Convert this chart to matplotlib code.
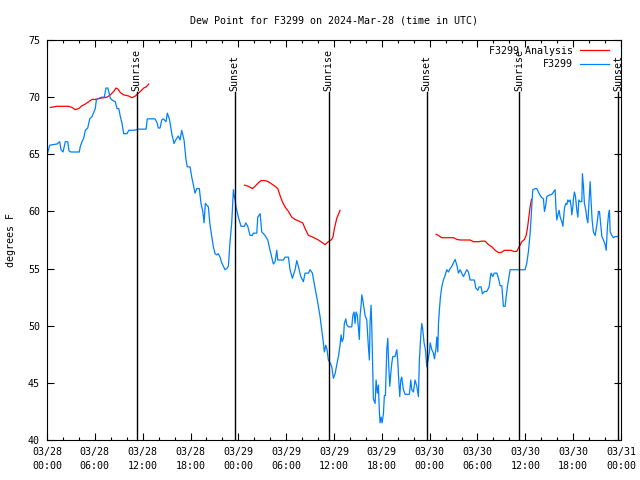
import numpy as np
import matplotlib
matplotlib.use("Agg")
from matplotlib import pyplot as plt
from matplotlib.ticker import MultipleLocator

# hours since 2024-03-28 00:00 UTC, dew point in F
obs_hours = [0.0, 0.34, 1.25, 1.59, 1.76, 2.01, 2.30, 2.60, 2.76, 3.01, 4.05, 4.18, 4.39, 4.60, 4.81, 5.11,
             5.36, 5.65, 6.06, 6.19, 6.49, 6.90, 7.19, 7.40, 7.62, 7.74, 7.94, 8.16, 8.57, 8.78, 9.0, 9.20,
             9.41, 9.62, 10.04, 10.25, 10.88, 11.51, 12.43, 12.58, 13.55, 13.84, 13.96, 14.18, 14.39, 14.59,
             14.93, 15.09, 15.35, 15.52, 15.65, 15.93, 16.19, 16.47, 16.69, 16.90, 17.19, 17.31, 17.44, 17.60,
             17.94, 18.16, 18.36, 18.57, 18.78, 19.11, 19.20, 19.32, 19.54, 19.70, 19.86, 20.24, 20.45, 20.67,
             20.87, 21.08, 21.29, 21.49, 21.71, 21.92, 22.33, 22.55, 22.75, 22.96, 23.17, 23.38, 23.50, 23.59,
             23.71, 24.0, 24.34, 24.76, 24.93, 25.18, 25.47, 25.76, 25.88, 26.31, 26.44, 26.73, 26.94, 27.35,
             27.69, 27.98, 28.19, 28.39, 28.61, 28.82, 28.94, 29.65, 29.86, 30.28, 30.49, 30.78, 31.12, 31.33,
             31.53, 31.83, 32.16, 32.37, 32.79, 33.00, 33.29, 33.54, 33.84, 34.04, 34.25, 34.47, 34.67, 34.79,
             34.97, 35.13, 35.29, 35.55, 35.72, 35.92, 36.14, 36.35, 36.55, 36.76, 36.89, 37.01, 37.18, 37.30,
             37.48, 37.60, 37.80, 38.23, 38.36, 38.52, 38.64, 38.77, 38.93, 39.06, 39.18, 39.27, 39.40, 39.49,
             39.61, 39.77, 39.90, 40.11, 40.31, 40.44, 40.53, 40.65, 40.74, 40.87, 40.94, 41.16, 41.28, 41.44,
             41.57, 41.69, 41.78, 41.91, 42.03, 42.20, 42.32, 42.45, 42.62, 42.75, 42.87, 43.00, 43.12, 43.25,
             43.37, 43.66, 43.88, 44.00, 44.13, 44.25, 44.38, 44.50, 44.71, 44.92, 45.46, 45.63, 45.76, 45.96,
             46.17, 46.39, 46.59, 46.71, 46.89, 47.01, 47.14, 47.30, 47.47, 47.64, 47.80, 47.97, 48.06, 48.27,
             48.47, 48.60, 48.77, 48.90, 49.02, 49.10, 49.22, 49.35, 49.52, 49.72, 49.94, 50.15, 50.35, 50.56,
             50.78, 50.98, 51.19, 51.41, 51.61, 51.82, 52.03, 52.23, 52.45, 52.66, 52.86, 53.07, 53.61, 53.79,
             54.04, 54.20, 54.45, 54.62, 54.87, 55.17, 55.46, 55.62, 55.71, 55.92, 56.09, 56.43, 56.63, 56.84,
             57.05, 57.13, 57.25, 57.47, 57.59, 57.75, 57.97, 58.09, 59.97, 60.19, 60.39, 60.60, 60.73, 60.85,
             60.94, 61.23, 61.44, 61.64, 61.86, 62.07, 62.27, 62.40, 62.53, 62.70, 62.90, 63.33, 63.53, 63.74,
             63.83, 63.95, 64.08, 64.24, 64.37, 64.58, 64.71, 64.78, 64.91, 65.08, 65.21, 65.33, 65.46, 65.62,
             65.75, 65.83, 65.96, 66.03, 66.16, 66.29, 66.46, 66.59, 66.71, 66.88, 67.09, 67.16, 67.29, 67.41,
             67.59, 67.71, 67.84, 68.00, 68.13, 68.26, 68.38, 68.54, 68.76, 68.97, 69.17, 69.30, 69.47, 69.60,
             69.80, 70.01, 70.14, 70.30, 70.43, 70.55, 70.64, 70.85, 71.05, 71.27, 71.68]
obs_dewpt = [64.9, 65.8, 65.9, 66.1, 65.4, 65.2, 66.1, 66.1, 65.3, 65.2, 65.2, 65.7, 66.1, 66.4, 67.1, 67.3,
             68.1, 68.3, 69.0, 69.75, 69.9, 70.0, 70.0, 70.8, 70.8, 70.5, 69.9, 69.75, 69.6, 69.0, 69.0, 68.3,
             67.7, 66.8, 66.8, 67.1, 67.1, 67.2, 67.2, 68.1, 68.1, 67.7, 67.3, 67.3, 68.0, 68.1,
             67.85, 68.6, 68.1, 67.4, 66.8, 65.95, 66.3, 66.6, 66.25, 67.1, 66.25, 65.4, 64.5, 63.9,
             63.9, 63.0, 62.3, 61.6, 62.0, 62.0, 61.4, 60.7, 60.0, 59.0, 60.7, 60.4, 58.8, 57.8,
             56.9, 56.3, 56.2, 56.3, 56.0, 55.5, 54.9, 55.0, 55.2, 57.35, 59.0, 61.9, 61.3, 61.0,
             60.4, 59.5, 58.7, 58.7, 59.0, 58.7, 57.9, 57.9, 58.1, 58.1, 59.5, 59.8, 58.2, 57.9,
             57.5, 56.6, 56.0, 55.4, 55.6, 56.6, 55.75, 55.75, 56.0, 56.0, 54.9, 54.15, 54.9, 55.7,
             55.2, 54.3, 53.85, 54.6, 54.6, 54.9, 54.6, 53.6, 52.5, 51.7, 50.8, 49.6, 48.5, 47.7,
             48.3, 47.9, 47.0, 46.7, 46.4, 45.4, 45.8, 46.6, 47.3, 48.3, 49.2, 48.6, 48.9, 50.2,
             50.6, 50.1, 49.9, 49.9, 50.9, 51.2, 50.2, 51.2, 50.9, 49.8, 48.8, 50.9, 51.8, 52.7,
             52.25, 51.5, 50.9, 50.5, 48.2, 47.0, 50.35, 51.8, 49.9, 45.8, 43.6, 43.2, 45.25, 44.1,
             44.8, 42.5, 41.5, 42.0, 41.5, 42.3, 43.9, 43.9, 47.9, 48.9, 46.4, 44.7, 45.8, 46.7,
             47.3, 47.3, 47.9, 46.9, 45.1, 43.8, 45.25, 45.5, 44.4, 44.0, 44.0, 45.25, 44.4, 44.2,
             45.25, 44.7, 43.8, 47.0, 49.2, 50.2, 49.6, 48.5, 47.9, 46.4, 47.0, 47.7, 48.5, 47.9,
             47.6, 47.1, 47.9, 49.0, 47.7, 50.1, 51.4, 52.5, 53.4, 54.0, 54.4, 54.9, 54.7, 55.0,
             55.2, 55.5, 55.8, 55.3, 54.6, 54.9, 54.6, 54.3, 54.6, 54.9, 54.7, 54.0, 54.0, 53.3,
             53.1, 53.4, 53.4, 52.8, 53.0, 53.0, 53.4, 54.3, 54.6, 54.3, 54.6, 54.6, 54.15, 53.5,
             53.5, 52.8, 51.7, 51.7, 52.5, 53.4, 54.4, 54.9, 54.9, 55.5, 56.5, 58.1, 59.5, 61.0,
             61.9, 62.0, 62.0, 61.7, 61.4, 61.2, 61.1, 60.0, 60.4, 61.3, 61.4, 61.5, 61.7, 61.9,
             60.4, 59.25, 59.7, 60.1, 59.5, 59.1, 58.7, 59.25, 60.3, 60.7, 60.6, 61.0, 60.85, 61.0,
             60.4, 59.7, 60.4, 61.1, 61.7, 61.3, 60.1, 59.5, 61.0, 60.85, 60.85, 63.3, 62.2, 60.7,
             60.1, 59.4, 59.0, 61.0, 62.6, 60.7, 59.25, 58.2, 57.9, 58.8, 60.0, 60.0, 58.7, 57.8,
             57.5, 57.1, 56.6, 58.7, 59.7, 60.1, 58.2, 57.9, 57.7, 57.8, 57.8]

# analysis runs (three separate pieces)
ana_hours_1 = [0.41, 1.25, 2.72, 3.14, 3.55, 3.98, 4.39, 4.81, 5.23, 5.65, 6.06, 6.69, 7.11, 7.53, 7.94,
               8.37, 8.66, 8.91, 9.20, 9.62, 10.25, 10.67, 11.08, 11.38, 11.71, 12.13, 12.46, 12.76]
ana_dewpt_1 = [69.1, 69.2, 69.2, 69.1, 68.9, 69.0, 69.25, 69.4, 69.6, 69.8, 69.8, 69.9, 69.95, 70.0, 70.2,
               70.5, 70.8, 70.7, 70.4, 70.2, 70.1, 69.95, 70.1, 70.3, 70.5, 70.8, 70.9, 71.15]
ana_hours_2 = [24.76, 25.26, 25.76, 26.10, 26.51, 26.85, 27.35, 27.77, 28.19, 28.61, 28.95, 29.23, 29.52,
               29.86, 30.28, 30.70, 31.12, 31.74, 32.08, 32.37, 32.79, 33.21, 33.63, 34.04, 34.47, 34.88,
               35.29, 35.72, 35.88, 36.05, 36.35, 36.76]
ana_dewpt_2 = [62.3, 62.2, 62.0, 62.2, 62.5, 62.7, 62.7, 62.6, 62.4, 62.2, 62.0, 61.4, 60.85,
               60.4, 60.0, 59.5, 59.3, 59.1, 59.0, 58.5, 57.9, 57.8, 57.65, 57.5, 57.3, 57.1,
               57.35, 57.55, 57.8, 58.5, 59.4, 60.1]
ana_hours_3 = [48.81, 49.10, 49.52, 50.98, 51.41, 51.82, 53.07, 53.49, 54.12, 54.54, 54.96, 55.37, 55.80,
               56.21, 56.63, 56.96, 57.38, 58.22, 58.51, 58.93, 59.22, 59.56, 59.89, 60.10, 60.26, 60.44,
               60.60, 60.77]
ana_dewpt_3 = [58.0, 57.9, 57.7, 57.7, 57.55, 57.5, 57.5, 57.35, 57.35, 57.4, 57.4, 57.1, 56.9,
               56.6, 56.4, 56.4, 56.6, 56.6, 56.5, 56.5, 56.9, 57.35, 57.55, 57.9, 58.5, 59.5,
               60.4, 61.05]

sun_hours = [11.27, 23.54, 35.35, 47.62, 59.23, 71.63]
sun_labels = ["Sunrise", "Sunset", "Sunrise", "Sunset", "Sunrise", "Sunset"]

tick_hours = list(range(0, 73, 6))
tick_labels = ["03/28\n00:00", "03/28\n06:00", "03/28\n12:00", "03/28\n18:00",
               "03/29\n00:00", "03/29\n06:00", "03/29\n12:00", "03/29\n18:00",
               "03/30\n00:00", "03/30\n06:00", "03/30\n12:00", "03/30\n18:00", "03/31\n00:00"]

plt.rcParams["font.family"] = ["DejaVu Sans Mono"]
plt.rcParams["font.size"] = 7.2

fig = plt.figure(figsize=(6.4, 4.8), dpi=100)
ax = fig.add_axes([47 / 640, 40 / 480, 574 / 640, 400 / 480])

ax.plot(ana_hours_1, ana_dewpt_1, color="#ff0000", lw=0.9, label="F3299 Analysis")
ax.plot(ana_hours_2, ana_dewpt_2, color="#ff0000", lw=0.9)
ax.plot(ana_hours_3, ana_dewpt_3, color="#ff0000", lw=0.9)
ax.plot(obs_hours, obs_dewpt, color="#0080ff", lw=0.9, label="F3299")

for h, lab in zip(sun_hours, sun_labels):
    ax.plot([h, h], [40, 70.45], color="black", lw=1.0)
    ax.text(h, 70.5, lab, rotation=90, ha="center", va="bottom")

ax.set_xlim(0, 72)
ax.set_ylim(40, 75)
ax.set_xticks(tick_hours)
ax.set_xticklabels(tick_labels, linespacing=1.55)
ax.xaxis.set_minor_locator(MultipleLocator(2))
ax.yaxis.set_major_locator(MultipleLocator(5))
ax.tick_params(which="both", direction="in", top=True, right=True, width=0.8)
ax.tick_params(which="major", length=5, pad=5)
ax.tick_params(which="minor", length=2.5)
ax.set_ylabel("degrees F", labelpad=9)
ax.set_title("Dew Point for F3299 on 2024-Mar-28 (time in UTC)", fontsize=7.2, pad=12)
for s in ax.spines.values():
    s.set_linewidth(0.8)

ax.legend(loc="upper right", bbox_to_anchor=((609 - 47) / 574, 0.985), frameon=False,
          markerfirst=False, borderpad=0, borderaxespad=0, handlelength=2.9,
          handletextpad=0.7, labelspacing=0.35)

fig.savefig("out.png", dpi=100)
